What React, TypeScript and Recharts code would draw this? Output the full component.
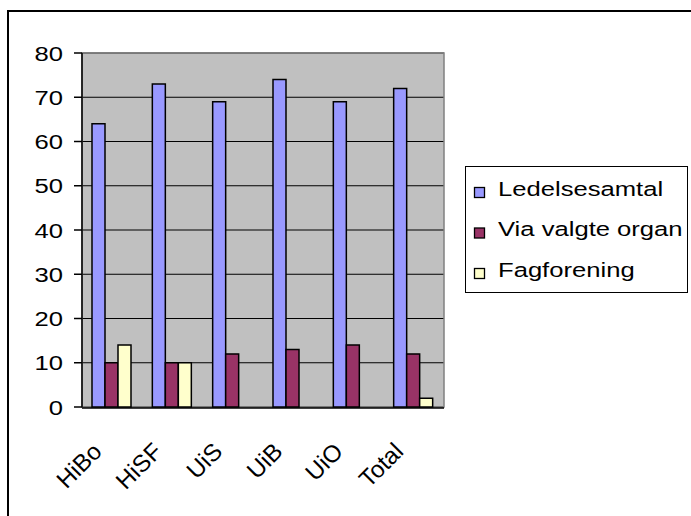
import { BarChart, Bar, XAxis, YAxis, CartesianGrid, Legend, ReferenceArea } from 'recharts'

const categories = ['HiBo', 'HiSF', 'UiS', 'UiB', 'UiO', 'Total']
const ledelsesamtal = [64, 73, 69, 74, 69, 72]
const viaValgteOrgan = [10, 10, 12, 13, 14, 12]
const fagforening = [14, 10, 0, 0, 0, 2]
const yTicks = [0, 10, 20, 30, 40, 50, 60, 70, 80]
const boundaryTicks = [0, 1, 2, 3, 4, 5, 6]

const series = [
  { key: 'ledelsesamtal', name: 'Ledelsesamtal', color: '#9999FF' },
  { key: 'via', name: 'Via valgte organ', color: '#993366' },
  { key: 'fag', name: 'Fagforening', color: '#FFFFCC' },
]

const data = categories.map((name, i) => ({
  name,
  ledelsesamtal: ledelsesamtal[i],
  via: viaValgteOrgan[i],
  fag: fagforening[i],
}))

const FONT = '"Liberation Sans", Arial, sans-serif'
const STRETCH = 1.22

function YTick({ x, y, payload }: { x?: number; y?: number; payload?: { value: number } }) {
  return (
    <text
      transform={`translate(${x},${y}) scale(${STRETCH},1)`}
      textAnchor="end"
      dy="0.36em"
      fontSize={21}
      fontFamily={FONT}
      fill="#000"
    >
      {payload?.value}
    </text>
  )
}

function XTick({ x, y, payload }: { x?: number; y?: number; payload?: { value: string } }) {
  return (
    <text
      transform={`translate(${(x ?? 0) - 9},${(y ?? 0) + 46}) rotate(-45)`}
      textAnchor="end"
      fontSize={24}
      fontFamily={FONT}
      fill="#000"
    >
      {payload?.value}
    </text>
  )
}

function LegendBox() {
  return (
    <svg width={224} height={128} style={{ display: 'block' }}>
      <rect x={0.5} y={0.5} width={222} height={126} fill="#fff" stroke="#000" />
      {series.map((s, i) => (
        <g key={s.key}>
          <rect x={9.5} y={21.5 + i * 40.5} width={10} height={10} fill={s.color} stroke="#000" strokeWidth={1.3} />
          <text
            transform={`translate(33,${29.5 + i * 40.5}) scale(1.25,1)`}
            fontSize={20.5}
            fontFamily={FONT}
            fill="#000"
          >
            {s.name}
          </text>
        </g>
      ))}
    </svg>
  )
}

export default function App() {
  return (
    <div
      style={{
        position: 'fixed',
        left: 0,
        top: 0,
        width: 691,
        height: 516,
        overflow: 'hidden',
        background: '#fff',
        fontFamily: FONT,
      }}
    >
      <div
        style={{
          position: 'absolute',
          left: 7,
          top: 10,
          width: 800,
          height: 800,
          border: '2px solid #000',
        }}
      />
      <div style={{ position: 'absolute', left: 0, top: 0 }}>
        <BarChart
          width={691}
          height={516}
          data={data}
          margin={{ top: 53, right: 247, bottom: 107, left: 0 }}
          barCategoryGap={10}
          barGap={0}
        >
          <CartesianGrid vertical={false} stroke="#000" fill="#C0C0C0" fillOpacity={1} />
          <ReferenceArea y1={0} y2={80} fill="none" stroke="#808080" strokeWidth={1.5} />
          <XAxis
            dataKey="name"
            axisLine={false}
            tickLine={false}
            tickSize={0}
            tickMargin={0}
            height={1}
            interval={0}
            tick={<XTick />}
          />
          <XAxis
            xAxisId="frame"
            type="number"
            domain={[0, 6]}
            ticks={boundaryTicks}
            allowDataOverflow
            tick={false}
            tickSize={7}
            height={1}
            axisLine={{ stroke: '#000', strokeWidth: 1.5 }}
            tickLine={{ stroke: '#000', strokeWidth: 1.5 }}
          />
          <YAxis
            width={82}
            domain={[0, 80]}
            ticks={yTicks}
            interval={0}
            tickSize={8}
            tickMargin={11}
            axisLine={{ stroke: '#000', strokeWidth: 1.5 }}
            tickLine={{ stroke: '#000', strokeWidth: 1.5 }}
            tick={<YTick />}
          />
          {series.map((s) => (
            <Bar
              key={s.key}
              dataKey={s.key}
              name={s.name}
              fill={s.color}
              stroke="#000"
              strokeWidth={1.5}
              isAnimationActive={false}
            />
          ))}
          <Legend
            layout="vertical"
            align="center"
            verticalAlign="middle"
            wrapperStyle={{ left: 465, top: 166, width: 224, height: 128 }}
            content={<LegendBox />}
          />
        </BarChart>
      </div>
    </div>
  )
}
